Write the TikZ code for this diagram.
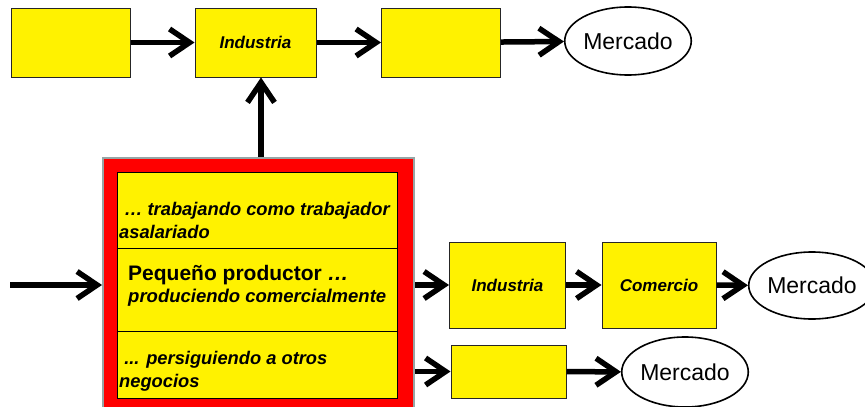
\documentclass[tikz,border=0pt]{standalone}
\usepackage{fontspec}
\setmainfont{Liberation Sans}
\usetikzlibrary{arrows.meta,positioning,shapes.geometric}

\definecolor{framegray}{RGB}{150,165,165}
\tikzset{
  box/.style={draw=black!85, fill=yellow, line width=1pt, inner sep=0pt,
    minimum width=119, minimum height=69,
    font=\fontsize{17}{20}\selectfont\bfseries\itshape},
  market/.style={ellipse, draw=black, line width=1.6pt, fill=white, inner sep=0pt,
    minimum width=122, minimum height=68, font=\fontsize{23}{26}\selectfont},
  row/.style={draw=black, fill=yellow, line width=.8pt, inner sep=0pt, minimum width=280},
  rowtext/.style={anchor=west, align=left, inner sep=0pt,
    font=\fontsize{18.3}{23}\selectfont\bfseries\itshape},
  flow/.style={line width=5.5pt, -{Straight Barb[length=20pt,width=27pt,line width=5.5pt]}}
}

\begin{document}
\begin{tikzpicture}[x=1pt,y=-1pt]
  \useasboundingbox (0,0) rectangle (865,407);
  \clip (0,0) rectangle (865,407);

  % top chain
  \node[box] (top1) at (71,42.5) {};
  \node[box, minimum width=121] (top2) at (255.5,42.5) {Industria};
  \node[box] (top3) at (441,42.5) {};
  \node[market] (mkt1) at (628,41) {Mercado};

  % small producer
  \node[draw=framegray, line width=2pt, fill=red, anchor=north west,
        minimum width=311, minimum height=270, inner sep=0pt] (frame) at (102,157) {};
  \node[row, minimum height=76] (row1) at (257,210) {};
  \node[row, minimum height=83] (row2) at (257,289.5) {};
  \node[row, minimum height=67] (row3) at (257,364.5) {};
  \node[rowtext] (txt1) at (119,220) {\ … trabajando como trabajador\\asalariado};
  \node[rowtext, font=\bfseries] (txt2) at (128,286)
    {{\fontsize{21}{24}\selectfont Pequeño productor \itshape …}\\[3pt]
     {\fontsize{18.5}{22}\selectfont\itshape produciendo comercialmente}};
  \node[rowtext] (txt3) at (119,371) {\ ... persiguiendo a otros\\negocios};

  % middle chain
  \node[box, minimum width=116, minimum height=86] (ind2) at (507.5,285) {Industria};
  \node[box, minimum width=114, minimum height=86] (com) at (659,285) {Comercio};
  \node[market, minimum width=118, minimum height=67] (mkt2) at (812,285.5) {Mercado};

  % bottom chain
  \node[box, minimum width=115, minimum height=53] (other) at (508.5,371.5) {};
  \node[market, minimum width=124, minimum height=70] (mkt3) at (685,372) {Mercado};

  \coordinate (in) at (10,285);

  \draw[flow] (top1) -- (top2);
  \draw[flow] (top2) -- (top3);
  \draw[flow] (top3) -- (mkt1);
  \draw[flow] (frame.north -| 261,0) -- (top2.south -| 261,0);
  \draw[flow] (in) -- (frame.west |- in);
  \draw[flow] (frame.east |- ind2.west) -- (ind2.west);
  \draw[flow] (ind2) -- (com);
  \draw[flow] (com) -- (mkt2);
  \draw[flow] (frame.east |- other.west) -- (other.west);
  \draw[flow] (other) -- (mkt3);
\end{tikzpicture}
\end{document}
